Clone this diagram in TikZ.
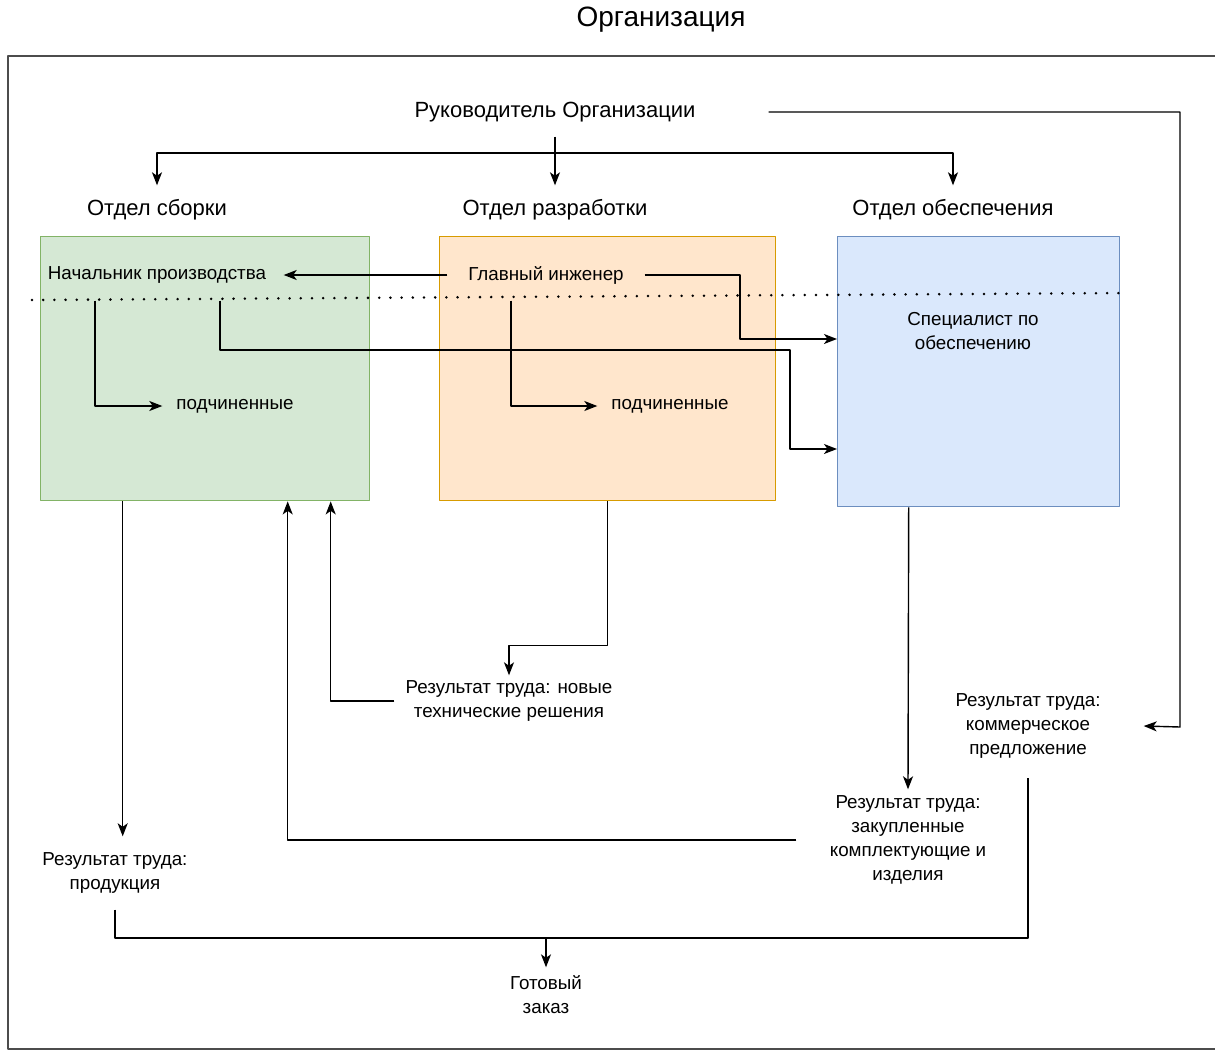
\documentclass[tikz,border=0pt]{standalone}
\usepackage{fontspec}
\setmainfont{Liberation Sans}
\usetikzlibrary{arrows.meta}
\definecolor{grFill}{HTML}{D5E8D4}\definecolor{grLine}{HTML}{82B366}
\definecolor{orFill}{HTML}{FFE6CC}\definecolor{orLine}{HTML}{D79B00}
\definecolor{blFill}{HTML}{DAE8FC}\definecolor{blLine}{HTML}{6C8EBF}
\begin{document}
\begin{tikzpicture}[x=1pt, y=-1pt, line join=round, line width=1.4pt,
	>={Stealth[length=13pt,width=10pt,inset=3.5pt]},
	head/.style={font=\fontsize{22}{26}\selectfont, inner sep=0pt, minimum height=48pt},
	txt/.style={font=\fontsize{18.8}{24}\selectfont, align=center, inner sep=0pt},
	dept/.style={draw, line width=1.4pt, inner sep=0pt, anchor=north west}]
	\useasboundingbox (0,0) rectangle (1215,1052);
	\begin{scope}
		\clip (0,0) rectangle (1215,1052);
		\draw[black!70, line width=1.6pt] (8,56) rectangle (1240,1049);
	\end{scope}
	\node[font=\fontsize{28}{32}\selectfont] (org) at (661,20) {Организация};
	\node[head, minimum width=426pt] (ruk) at (555,112) {Руководитель Организации};
	\node[head] (hSb) at (157,210) {Отдел сборки};
	\node[head] (hRaz) at (555,210) {Отдел разработки};
	\node[head] (hObs) at (953,210) {Отдел обеспечения};

	\node[dept, fill=grFill, draw=grLine, minimum width=329pt, minimum height=264pt] (sb) at (40,236) {};
	\node[dept, fill=orFill, draw=orLine, minimum width=336pt, minimum height=264pt] (raz) at (439,236) {};
	\node[dept, fill=blFill, draw=blLine, minimum width=282pt, minimum height=270pt] (obs) at (837,236) {};
	\draw[line width=2.8pt, line cap=round, dash pattern=on 0pt off 11.2pt] (32,300) -- (1125,293);

	\node[txt, minimum width=252pt, minimum height=50pt] (nach) at (157,275) {Начальник производства};
	\node[txt, minimum width=196pt, minimum height=50pt] (glav) at (546,275) {Главный инженер};
	\node[txt] (spec) at (973,331) {Специалист по\\обеспечению};
	\node[txt, minimum width=144pt] (pod1) at (235,406) {подчиненные};
	\node[txt, minimum width=144pt] (pod2) at (670,406) {подчиненные};

	\node[txt, minimum height=72pt] (prod) at (115,873) {Результат труда:\\продукция};
	\node[txt, minimum width=228pt, minimum height=50pt] (nov) at (509,701) {Результат труда: новые\\технические решения};
	\node[txt, minimum width=222pt, minimum height=100pt] (zak) at (908,840) {Результат труда:\\закупленные\\комплектующие и\\изделия};
	\node[txt, minimum width=230pt, minimum height=102pt] (kp) at (1028,726) {Результат труда:\\коммерческое\\предложение};
	\node[txt, minimum height=54pt] (zakaz) at (546,995) {Готовый\\заказ};

	% руководитель
	\coordinate (fork) at (555,153);
	\coordinate (turn) at (1180,727);
	\draw[->] (ruk.south) -- (hRaz.north);
	\draw[->] (fork) -| (hSb.north);
	\draw[->] (fork) -| (hObs.north);
	\draw[->] (ruk.east) -| (turn) -- (kp.east);

	% внутри отделов
	\coordinate (g1) at (740,339);
	\coordinate (n1) at (790,350);
	\coordinate (n2) at (790,449);
	\draw[->] (glav.west) -- (nach.east);
	\draw[->] (glav.east) -| (g1) -- (g1 -| obs.west);
	\draw[->] ([xshift=-62pt]nach.south) |- (pod1.west);
	\draw[->] ([xshift=63pt]nach.south) |- (n1) -- (n2) -- (n2 -| obs.west);
	\draw[->] ([xshift=-35pt]glav.south) |- (pod2.west);

	% результаты
	\coordinate (sbOut) at ([xshift=-82.5pt]sb.south);
	\coordinate (bus) at (546,938);
	\draw[->] (sbOut) -- (sbOut |- prod.north);
	\draw[->] (raz.south) -- ++(0,144) -| (nov.north);
	\draw[->] (nov.west) -| ([xshift=125.5pt]sb.south);
	\draw[->] ([xshift=-70pt]obs.south) -- (zak.north);
	\draw[->] (zak.west) -| ([xshift=82.5pt]sb.south);
	\draw (prod.south) |- (bus) -| (kp.south);
	\draw[->] (bus) -- (zakaz.north);
\end{tikzpicture}
\end{document}
